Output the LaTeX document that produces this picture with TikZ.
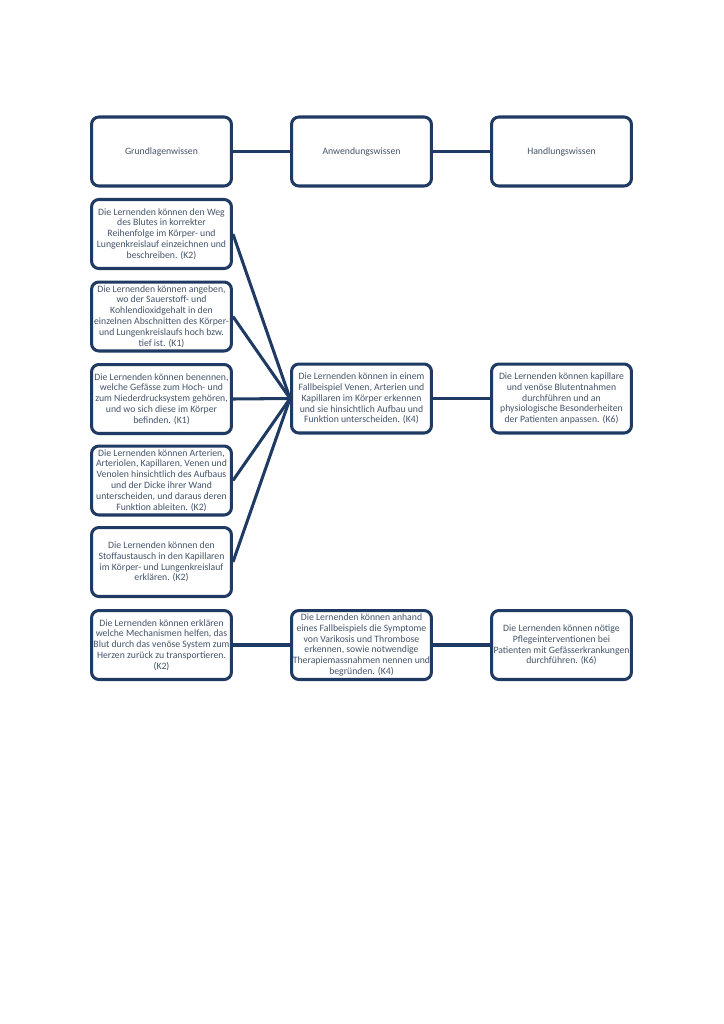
\documentclass[tikz,border=0pt]{standalone}
\usepackage{fontspec}
\setmainfont{Carlito}
\definecolor{navy}{HTML}{1F3A63}
\definecolor{txt}{HTML}{44546A}
\begin{document}
\begin{tikzpicture}[x=0.8222pt,y=-0.8222pt,
  box/.style={draw=navy, line width=2.5pt, rounded corners=6pt, fill=white,
    minimum width=115pt, minimum height=56.7pt, inner sep=1pt,
    align=center, text=txt, font=\fontsize{8}{8.9}\selectfont},
  link/.style={draw=navy, line width=2.5pt}]
\useasboundingbox (0,0) rectangle (724,1024);
\node[box] (g) at (161.5,151.5) {Grundlagenwissen};
\node[box] (a) at (361.5,151.5) {Anwendungswissen};
\node[box] (h) at (561.5,151.5) {Handlungswissen};
\node[box] (l1) at (161.5,234) {Die Lernenden können den Weg\\des Blutes in korrekter\\Reihenfolge im Körper- und\\Lungenkreislauf einzeichnen und\\beschreiben. (K2)};
\node[box] (l2) at (161.5,316.5) {Die Lernenden können angeben,\\wo der Sauerstoff- und\\Kohlendioxidgehalt in den\\einzelnen Abschnitten des Körper-\\und Lungenkreislaufs hoch bzw.\\tief ist. (K1)};
\node[box] (l3) at (161.5,399) {Die Lernenden können benennen,\\welche Gefässe zum Hoch- und\\zum Niederdrucksystem gehören,\\und wo sich diese im Körper\\befinden. (K1)};
\node[box] (l4) at (161.5,480.5) {Die Lernenden können Arterien,\\Arteriolen, Kapillaren, Venen und\\Venolen hinsichtlich des Aufbaus\\und der Dicke ihrer Wand\\unterscheiden, und daraus deren\\Funktion ableiten. (K2)};
\node[box] (l5) at (161.5,562) {Die Lernenden können den\\Stoffaustausch in den Kapillaren\\im Körper- und Lungenkreislauf\\erklären. (K2)};
\node[box] (l6) at (161.5,645) {Die Lernenden können erklären\\welche Mechanismen helfen, das\\Blut durch das venöse System zum\\Herzen zurück zu transportieren.\\(K2)};
\node[box] (m) at (361.5,398.5) {Die Lernenden können in einem\\Fallbeispiel Venen, Arterien und\\Kapillaren im Körper erkennen\\und sie hinsichtlich Aufbau und\\Funktion unterscheiden. (K4)};
\node[box] (r) at (561.5,398.5) {Die Lernenden können kapillare\\und venöse Blutentnahmen\\durchführen und an\\physiologische Besonderheiten\\der Patienten anpassen. (K6)};
\node[box] (m2) at (361.5,645) {Die Lernenden können anhand\\eines Fallbeispiels die Symptome\\von Varikosis und Thrombose\\erkennen, sowie notwendige\\Therapiemassnahmen nennen und\\begründen. (K4)};
\node[box] (r2) at (561.5,645) {Die Lernenden können nötige\\Pflegeinterventionen bei\\Patienten mit Gefässerkrankungen\\durchführen. (K6)};
\draw[link] (g) -- (a);
\draw[link] (a) -- (h);
\foreach \n in {l1,l2,l3,l4,l5} \draw[link] (\n.east) -- (m.west);
\draw[link] (m) -- (r);
\draw[link] (l6) -- (m2);
\draw[link] (m2) -- (r2);
\end{tikzpicture}
\end{document}
